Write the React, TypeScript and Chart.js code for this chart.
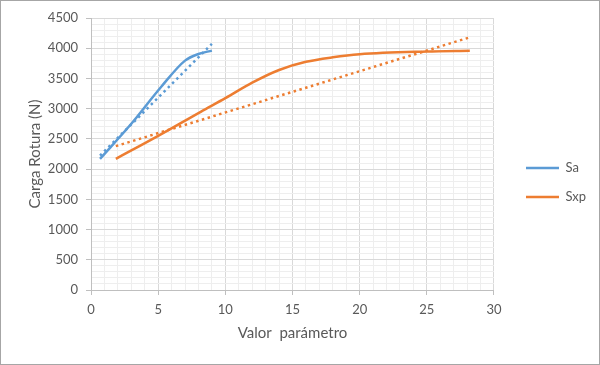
import { useEffect, useRef } from "react";
import { Chart, registerables } from "chart.js";

Chart.register(...registerables);

// Series Sa
const saX = [0.67, 3, 5.2, 7, 8, 9];
const saY = [2170, 2750, 3355, 3795, 3905, 3960];
// Series Sxp
const sxpX = [1.85, 5, 8.2, 10, 12, 14, 16, 18, 20, 25, 28.2];
const sxpY = [2170, 2550, 2952, 3173, 3430, 3640, 3775, 3850, 3900, 3945, 3957];
// Linear trendlines (end points)
const saTrendX = [0.67, 9];
const saTrendY = [2222, 4072];
const sxpTrendX = [1.85, 28.2];
const sxpTrendY = [2380, 4180];

const xTitle = "Valor  parámetro";
const yTitle = "Carga Rotura (N)";
const seriesNames = ["Sa", "Sxp"];

const BLUE = "#5B9BD5";
const ORANGE = "#ED7D31";
const TEXT = "#595959";
const FONT = "Lato";

const pts = (xs: number[], ys: number[]) => xs.map((x, i) => ({ x, y: ys[i] }));

export default function App() {
  const ref = useRef<HTMLCanvasElement>(null);

  useEffect(() => {
    const mainLine = (label: string, xs: number[], ys: number[], color: string) => ({
      label,
      data: pts(xs, ys),
      borderColor: color,
      backgroundColor: color,
      borderWidth: 2.5,
      pointRadius: 0,
      pointHoverRadius: 0,
      pointBorderWidth: 2.5,
      pointBorderColor: color,
      pointBackgroundColor: color,
      showLine: true,
      cubicInterpolationMode: "monotone" as const,
      order: 1,
    });
    const trendLine = (label: string, xs: number[], ys: number[], color: string) => ({
      label,
      data: pts(xs, ys),
      borderColor: color,
      backgroundColor: color,
      borderWidth: 2.5,
      borderDash: [2.5, 3.5],
      pointRadius: 0,
      pointHoverRadius: 0,
      showLine: true,
      tension: 0,
      order: 0,
    });

    const isMajorX = (ctx: any) => ctx.tick && Math.round(ctx.tick.value) % 5 === 0;
    const isMajorY = (ctx: any) => ctx.tick && Math.round(ctx.tick.value) % 500 === 0;

    const chart = new Chart(ref.current!, {
      type: "scatter",
      data: {
        datasets: [
          mainLine(seriesNames[0], saX, saY, BLUE),
          mainLine(seriesNames[1], sxpX, sxpY, ORANGE),
          trendLine("trend Sa", saTrendX, saTrendY, BLUE),
          trendLine("trend Sxp", sxpTrendX, sxpTrendY, ORANGE),
        ],
      },
      options: {
        responsive: false,
        animation: false,
        events: [],
        layout: { padding: { top: 18, bottom: 18, left: 0, right: 4 } },
        plugins: {
          tooltip: { enabled: false },
          legend: {
            position: "right",
            align: "center",
            labels: {
              filter: (item: any) => seriesNames.includes(item.text),
              usePointStyle: true,
              pointStyle: "line",
              pointStyleWidth: 33,
              font: { family: FONT, size: 13 },
              color: TEXT,
              padding: 16,
            },
          },
        },
        scales: {
          x: {
            type: "linear",
            position: "bottom",
            min: 0,
            max: 30,
            ticks: {
              stepSize: 1,
              autoSkip: false,
              maxRotation: 0,
              padding: 7,
              font: { family: FONT, size: 13 },
              color: TEXT,
              callback: (v: any) => (Math.round(v) % 5 === 0 ? String(v) : ""),
            },
            grid: {
              color: (ctx: any) => (isMajorX(ctx) ? "#d9d9d9" : "#eeeeee"),
              tickColor: (ctx: any) => (isMajorX(ctx) ? "#bfbfbf" : "rgba(0,0,0,0)"),
              tickLength: 5,
              lineWidth: 1,
            },
            border: { color: "#bfbfbf" },
            title: {
              display: true,
              text: xTitle,
              font: { family: FONT, size: 15 },
              color: TEXT,
              padding: { top: 0, bottom: 5 },
            },
            afterFit: (s: any) => {
              s.height = 57;
            },
          },
          y: {
            type: "linear",
            position: "left",
            min: 0,
            max: 4500,
            ticks: {
              stepSize: 100,
              autoSkip: false,
              padding: 8,
              font: { family: FONT, size: 13 },
              color: TEXT,
              callback: (v: any) => (Math.round(v) % 500 === 0 ? String(v) : ""),
            },
            grid: {
              color: (ctx: any) => (isMajorY(ctx) ? "#d9d9d9" : "#eeeeee"),
              tickColor: (ctx: any) => (isMajorY(ctx) ? "#bfbfbf" : "rgba(0,0,0,0)"),
              tickLength: 5,
              lineWidth: 1,
            },
            border: { color: "#bfbfbf" },
            title: {
              display: true,
              text: yTitle,
              font: { family: FONT, size: 15 },
              color: TEXT,
              padding: { top: 26, bottom: 0 },
            },
            afterFit: (s: any) => {
              s.width = 91;
            },
          },
          gap: {
            type: "linear",
            position: "right",
            display: true,
            ticks: { display: false },
            grid: { display: false, drawTicks: false },
            border: { display: false },
            afterFit: (s: any) => {
              s.width = 16;
            },
          },
        },
      },
    } as any);

    return () => chart.destroy();
  }, []);

  return (
    <div
      style={{
        position: "fixed",
        left: 0,
        top: 0,
        width: 600,
        height: 365,
        boxSizing: "border-box",
        border: "1px solid #a6a6a6",
        background: "#ffffff",
      }}
    >
      <canvas
        ref={ref}
        width={600}
        height={365}
        style={{ position: "absolute", left: -1, top: -1, width: 600, height: 365 }}
      />
    </div>
  );
}
